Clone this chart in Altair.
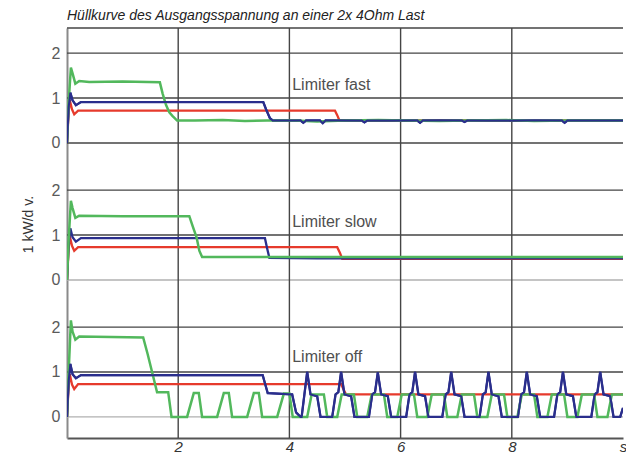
import altair as alt
import pandas as pd

# ---------------- data (time in s, value in kW/div) ----------------
# Panel "Limiter fast" (top)
fast_green_t = [0.0, 0.03, 0.07, 0.10, 0.15, 0.22, 0.40, 1.00, 1.67, 1.72, 1.78, 1.84, 1.90, 1.98, 2.30, 2.80, 3.20, 3.60, 4.10, 4.50, 5.00, 5.60, 6.10, 6.70, 7.20, 7.90, 8.40, 9.00, 9.60, 10.0]
fast_green_v = [0.0, 0.90, 1.68, 1.55, 1.32, 1.38, 1.36, 1.37, 1.35, 1.10, 0.85, 0.68, 0.60, 0.50, 0.50, 0.51, 0.49, 0.50, 0.50, 0.48, 0.50, 0.51, 0.50, 0.49, 0.50, 0.51, 0.49, 0.50, 0.50, 0.50]
fast_blue_t = [0.0, 0.03, 0.06, 0.10, 0.16, 0.25, 1.50, 3.53, 3.58, 3.65, 3.70, 4.00, 4.20, 4.25, 4.30, 4.55, 4.60, 4.65, 5.30, 5.35, 5.40, 6.30, 6.35, 6.40, 7.10, 7.15, 7.20, 8.00, 8.90, 8.95, 9.00, 9.60, 10.0]
fast_blue_v = [0.0, 0.80, 1.12, 0.95, 0.84, 0.91, 0.91, 0.91, 0.75, 0.55, 0.50, 0.50, 0.50, 0.45, 0.50, 0.50, 0.44, 0.50, 0.50, 0.46, 0.50, 0.50, 0.45, 0.50, 0.50, 0.47, 0.50, 0.50, 0.50, 0.45, 0.50, 0.50, 0.50]
fast_red_t = [0.0, 0.03, 0.05, 0.09, 0.13, 0.20, 2.00, 4.82, 4.86, 4.90, 5.20, 5.80, 6.50, 7.30, 8.20, 9.10, 10.0]
fast_red_v = [0.0, 0.70, 0.95, 0.75, 0.64, 0.72, 0.72, 0.72, 0.62, 0.50, 0.50, 0.49, 0.50, 0.50, 0.49, 0.50, 0.50]

# Panel "Limiter slow" (middle)
slow_green_t = [0.0, 0.03, 0.07, 0.10, 0.15, 0.22, 1.00, 2.20, 2.26, 2.33, 2.38, 2.43, 3.0, 4.0, 5.0, 6.0, 7.0, 8.0, 9.0, 10.0]
slow_green_v = [0.0, 0.90, 1.76, 1.60, 1.38, 1.43, 1.42, 1.42, 1.20, 0.95, 0.65, 0.51, 0.51, 0.51, 0.51, 0.51, 0.51, 0.51, 0.51, 0.51]
slow_blue_t = [0.0, 0.03, 0.06, 0.10, 0.16, 0.25, 2.00, 3.56, 3.60, 3.64, 4.5, 6.0, 7.5, 9.0, 10.0]
slow_blue_v = [0.0, 0.80, 1.15, 0.95, 0.85, 0.93, 0.93, 0.93, 0.70, 0.49, 0.48, 0.48, 0.48, 0.48, 0.48]
slow_red_t = [0.0, 0.03, 0.05, 0.09, 0.13, 0.20, 2.00, 4.86, 4.91, 4.95, 6.0, 8.0, 10.0]
slow_red_v = [0.0, 0.70, 0.97, 0.76, 0.65, 0.73, 0.73, 0.73, 0.60, 0.47, 0.47, 0.47, 0.47]

# Panel "Limiter off" (bottom)
off_green_t = [0.0, 0.03, 0.07, 0.10, 0.15, 0.22, 0.80, 1.37, 1.45, 1.55, 1.62, 1.82, 1.88,
               2.16, 2.28, 2.37, 2.43, 2.70, 2.82, 2.91, 2.97, 3.24, 3.36, 3.45, 3.51, 3.78, 3.90, 4.00, 4.06,
               4.32, 4.40, 4.62, 4.68, 4.86, 4.94, 5.16, 5.22, 5.40, 5.48, 5.70, 5.76,
               5.94, 6.02, 6.24, 6.30, 6.48, 6.56, 6.78, 6.84, 7.02, 7.10, 7.32, 7.38,
               7.56, 7.64, 7.86, 7.92, 8.10, 8.18, 8.40, 8.46, 8.64, 8.72, 8.94, 9.00,
               9.18, 9.26, 9.48, 9.54, 9.72, 9.80, 10.0]
off_green_v = [0.0, 1.00, 2.15, 1.90, 1.72, 1.79, 1.78, 1.77, 1.40, 0.90, 0.55, 0.55, 0.0,
               0.0, 0.53, 0.53, 0.0, 0.0, 0.53, 0.53, 0.0, 0.0, 0.53, 0.53, 0.0, 0.0, 0.52, 0.52, 0.0,
               0.0, 0.50, 0.50, 0.0, 0.0, 0.50, 0.50, 0.0, 0.0, 0.50, 0.50, 0.0,
               0.0, 0.50, 0.50, 0.0, 0.0, 0.50, 0.50, 0.0, 0.0, 0.50, 0.50, 0.0,
               0.0, 0.50, 0.50, 0.0, 0.0, 0.50, 0.50, 0.0, 0.0, 0.50, 0.50, 0.0,
               0.0, 0.50, 0.50, 0.0, 0.0, 0.50, 0.50]
off_blue_t = [0.0, 0.03, 0.06, 0.10, 0.16, 0.25, 2.00, 3.52, 3.56, 3.61, 4.05, 4.12, 4.20, 4.22, 4.27,
              4.32, 4.38, 4.50, 4.56, 4.77, 4.83, 4.88,
              4.93, 4.99, 5.11, 5.17, 5.43, 5.49, 5.54,
              5.59, 5.65, 5.77, 5.83, 6.10, 6.16, 6.21,
              6.26, 6.32, 6.44, 6.50, 6.75, 6.81, 6.86,
              6.91, 6.97, 7.09, 7.15, 7.42, 7.48, 7.53,
              7.58, 7.64, 7.76, 7.82, 8.11, 8.17, 8.22,
              8.27, 8.33, 8.45, 8.51, 8.76, 8.82, 8.87,
              8.92, 8.98, 9.10, 9.16, 9.43, 9.49, 9.54,
              9.59, 9.65, 9.77, 9.83, 9.95, 10.0]
off_blue_v = [0.0, 0.80, 1.18, 0.95, 0.86, 0.93, 0.93, 0.93, 0.75, 0.53, 0.50, 0.10, 0.0, 0.0, 0.50,
              1.00, 0.50, 0.46, 0.0, 0.0, 0.50, 0.55,
              1.00, 0.50, 0.46, 0.0, 0.0, 0.50, 0.55,
              0.99, 0.50, 0.46, 0.0, 0.0, 0.50, 0.55,
              1.00, 0.50, 0.46, 0.0, 0.0, 0.50, 0.55,
              1.00, 0.50, 0.46, 0.0, 0.0, 0.50, 0.55,
              1.00, 0.50, 0.46, 0.0, 0.0, 0.50, 0.55,
              1.00, 0.50, 0.46, 0.0, 0.0, 0.50, 0.55,
              1.00, 0.50, 0.46, 0.0, 0.0, 0.50, 0.55,
              1.00, 0.50, 0.46, 0.0, 0.0, 0.20]
off_red_t = [0.0, 0.03, 0.05, 0.09, 0.13, 0.20, 2.00, 4.93, 4.97, 5.02, 6.0, 7.0, 8.0, 9.0, 10.0]
off_red_v = [0.0, 0.70, 0.95, 0.72, 0.62, 0.73, 0.73, 0.73, 0.62, 0.50, 0.50, 0.50, 0.50, 0.50, 0.50]

panel_names = ["Limiter fast", "Limiter slow", "Limiter off"]
x_ticks = [2, 4, 6, 8]
y_ticks = [0, 1, 2]

# ---------------- layout ----------------
OFFSETS = {"Limiter fast": 6.1, "Limiter slow": 3.05, "Limiter off": 0.0}
Y_DOMAIN = [-0.47, 8.66]
X_DOMAIN = [0, 10]
GREEN, RED, BLUE = "#52b85c", "#e63a2c", "#2a2e8c"
GRID_DARK, GRID_LIGHT = "#454545", "#b0b0b0"

series = {
    "green": [("Limiter fast", fast_green_t, fast_green_v), ("Limiter slow", slow_green_t, slow_green_v), ("Limiter off", off_green_t, off_green_v)],
    "red": [("Limiter fast", fast_red_t, fast_red_v), ("Limiter slow", slow_red_t, slow_red_v), ("Limiter off", off_red_t, off_red_v)],
    "blue": [("Limiter fast", fast_blue_t, fast_blue_v), ("Limiter slow", slow_blue_t, slow_blue_v), ("Limiter off", off_blue_t, off_blue_v)],
}


def frame(name):
    rows = []
    for panel, ts, vs in series[name]:
        for i, (t, v) in enumerate(zip(ts, vs)):
            rows.append({"t": t, "y": v + OFFSETS[panel], "panel": panel, "i": i})
    return pd.DataFrame(rows)


xs = alt.Scale(domain=X_DOMAIN, nice=False, zero=False)
ys = alt.Scale(domain=Y_DOMAIN, nice=False, zero=False)

tick_vals = [v + OFFSETS[p] for p in panel_names for v in y_ticks]

X_AXIS = alt.Axis(
    values=x_ticks + [10], labelExpr="datum.value == 10 ? 's' : datum.label",
    grid=False, ticks=False, domainColor="#555555", domainWidth=2,
    labelFont="Liberation Sans", labelFontSize=15, labelFontStyle="italic",
    labelColor="#333333", labelPadding=1, labelFlush=False, labelOverlap=False)
Y_AXIS = alt.Axis(
    values=tick_vals,
    labelExpr="round(datum.value >= 6 ? datum.value - 6.1 : (datum.value >= 3 ? datum.value - 3.05 : datum.value))",
    grid=False, ticks=False, domainColor="#8a8a8a", domainWidth=2,
    labelFont="Liberation Sans", labelFontSize=16, labelColor="#5a5a5a",
    labelPadding=7, labelOverlap=False, labelFlush=False,
    titleFont="Liberation Sans", titleFontSize=14,
    titleFontWeight="normal", titleColor="#333333", titleX=-39, titleY=196,
    titleAngle=270, titleBaseline="middle", titleAlign="center")


def xenc(field="t"):
    return alt.X(f"{field}:Q", scale=xs, title=None, axis=X_AXIS)


def yenc(field="y"):
    return alt.Y(f"{field}:Q", scale=ys, title="1 kW/d v.", axis=Y_AXIS)


# horizontal grid lines
hrows = []
for panel in panel_names:
    for v in y_ticks:
        light = (v == 0 and panel != "Limiter fast")
        hrows.append({"y": v + OFFSETS[panel], "c": GRID_LIGHT if light else GRID_DARK})
hrows.append({"y": Y_DOMAIN[1], "c": GRID_DARK})
hgrid = alt.Chart(pd.DataFrame(hrows)).mark_rule(strokeWidth=1.4).encode(
    y=yenc(),
    color=alt.Color("c:N", scale=None),
)

vgrid = alt.Chart(pd.DataFrame({"t": x_ticks})).mark_rule(color=GRID_DARK, strokeWidth=1.4).encode(
    x=xenc()
)


def line_layer(name, color, width):
    return alt.Chart(frame(name)).mark_line(color=color, strokeWidth=width, clip=True).encode(
        x=xenc(),
        y=yenc(),
        detail="panel:N",
        order="i:Q",
    )


labels = pd.DataFrame({
    "text": panel_names,
    "t": [4.05, 4.05, 4.05],
    "y": [1.3 + OFFSETS["Limiter fast"], 1.3 + OFFSETS["Limiter slow"], 1.33 + OFFSETS["Limiter off"]],
})
label_layer = alt.Chart(labels).mark_text(
    align="left", baseline="middle", font="Liberation Sans", fontSize=16, color="#505050"
).encode(
    x=xenc(),
    y=yenc(),
    text="text:N",
)

chart = alt.layer(
    hgrid, vgrid,
    line_layer("red", RED, 2.3),
    line_layer("blue", BLUE, 2.3),
    line_layer("green", GREEN, 2.5),
    line_layer("blue", BLUE, 2.0).transform_filter("datum.panel != 'Limiter slow'"),
    label_layer,
).properties(
    width=556, height=410,
    padding={"left": 59, "top": 20, "right": 3, "bottom": 19},
    autosize=alt.AutoSizeParams(type="none"),
    background="white",
    title=alt.TitleParams(
        text="Hüllkurve des Ausgangsspannung an einer 2x 4Ohm Last",
        anchor="start", frame="group", font="Liberation Sans", fontSize=14,
        fontStyle="italic", fontWeight="normal", color="#222222", offset=4),
).configure_view(stroke=None)

chart.save("out.html", embed_options={"renderer": "svg", "actions": False})
